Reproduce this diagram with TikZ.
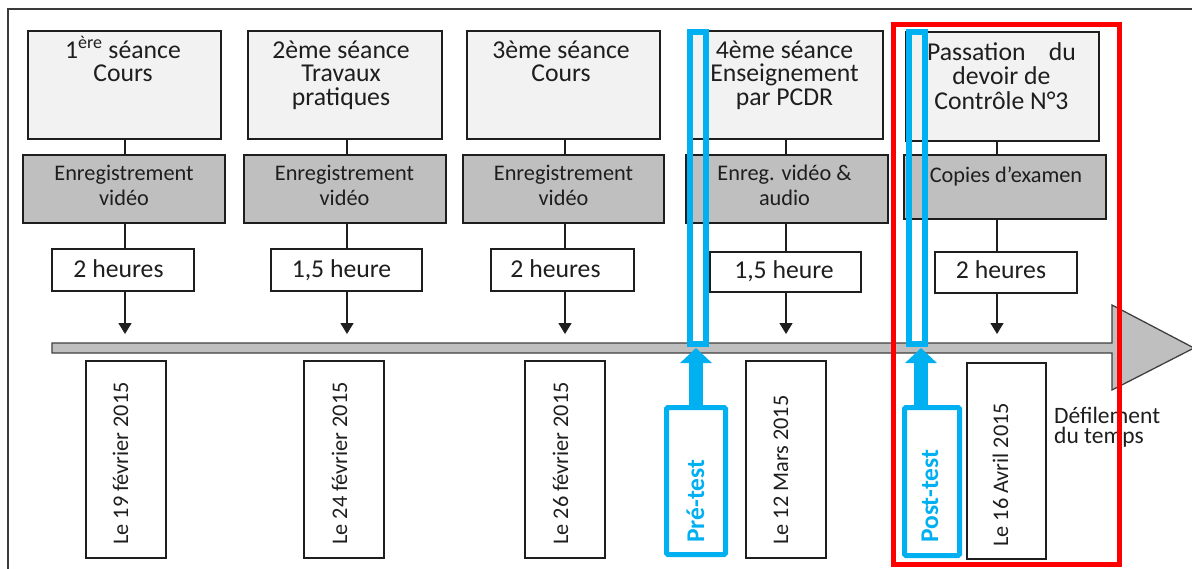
\documentclass[tikz,border=0pt]{standalone}
\usepackage{fontspec}
\setmainfont{Carlito}
\usetikzlibrary{arrows.meta}
\definecolor{boxgray}{HTML}{F2F2F2}
\definecolor{midgray}{HTML}{BFBFBF}
\definecolor{tblue}{HTML}{00B0F0}
\definecolor{tred}{HTML}{FF0000}
\definecolor{ink}{HTML}{1E1E1E}
\definecolor{framecol}{HTML}{3A3A3A}
\newcommand{\mlines}[2]{\parbox[t]{#1}{\centering #2}}
\begin{document}
\begin{tikzpicture}[x=1pt,y=-1pt,
  box/.style={draw=ink, line width=1.4pt, inner sep=0pt},
  topbox/.style={box, fill=boxgray},
  recbox/.style={box, fill=midgray},
  durbox/.style={box, fill=white},
  datebox/.style={box, fill=white, minimum width=80pt, minimum height=197pt},
  txt/.style={font=\fontsize{25.7}{23.5}\selectfont, text=ink, inner sep=0pt, anchor=base},
  rectxt/.style={font=\fontsize{22.3}{25}\selectfont, text=ink, inner sep=0pt, anchor=base},
  rtxt/.style={font=\fontsize{22.3}{23.5}\selectfont, text=ink, inner sep=0pt, rotate=90, anchor=base west},
  btxt/.style={font=\fontsize{25.5}{25}\selectfont\bfseries, text=tblue, inner sep=0pt, rotate=90, anchor=base west},
  conn/.style={draw=ink, line width=1.4pt},
  tip/.style={-{Triangle[width=13pt,length=11pt]}},
  testbox/.style={draw=tblue, line width=5pt, rounded corners=1.5pt, inner sep=0pt},
  marker/.style={draw=tblue, line width=6pt, inner sep=0pt},
  bluearrow/.style={draw=tblue, line width=14pt, -{Triangle[width=31pt,length=15pt]}}
]
\useasboundingbox (0,0) rectangle (1192,568);
\clip (0,0) rectangle (1192,568);
\fill[white] (0,0) rectangle (1192,568);
% outer frame (cropped)
\draw[framecol, line width=1.6pt] (8,9) rectangle (1260,640);
% time bar with arrow head
\draw[draw=ink!85, line width=1.3pt, fill=midgray, line join=miter]
  (52,343) -- (1112,343) -- (1112,305) -- (1194,348) -- (1112,390) -- (1112,353) -- (52,353) -- cycle;
% column coordinates
\coordinate (c1) at (125,0);
\coordinate (c2) at (347,0);
\coordinate (c3) at (565,0);
\coordinate (c4) at (786,0);
\coordinate (c5) at (997,0);
% top boxes
\node[topbox, minimum width=193pt, minimum height=108pt] (s1) at (124.5,85) {};
\node[topbox, minimum width=194pt, minimum height=108pt] (s2) at (345,85) {};
\node[topbox, minimum width=193pt, minimum height=108pt] (s3) at (563.5,85) {};
\node[topbox, minimum width=193pt, minimum height=108pt] (s4) at (786.5,85) {};
\node[topbox, minimum width=193pt, minimum height=109pt] (s5) at (1002.5,86.5) {};
\node[txt] (s1t) at (123,58) {\mlines{185pt}{1\textsuperscript{ère} séance\\Cours}};
\node[txt] (s2t) at (341,58) {\mlines{185pt}{2ème séance\\Travaux\\pratiques}};
\node[txt] (s3t) at (561,58) {\mlines{185pt}{3ème séance\\Cours}};
\node[txt] (s4t) at (784.5,58) {\mlines{185pt}{4ème séance\\Enseignement\\par PCDR}};
\node[txt, font=\fontsize{25.7}{24.5}\selectfont] (s5t) at (1001.5,60) {\mlines{185pt}{\makebox[149pt][s]{Passation\hfill du}\\devoir de\\Contrôle N°3}};
% recording boxes
\node[recbox, minimum width=202pt, minimum height=68pt] (g1) at (124,189) {};
\node[recbox, minimum width=202pt, minimum height=68pt] (g2) at (345,189) {};
\node[recbox, minimum width=201pt, minimum height=68pt] (g3) at (563.5,189) {};
\node[recbox, minimum width=202pt, minimum height=68pt] (g4) at (787,189) {};
\node[recbox, minimum width=202pt, minimum height=64pt] (g5) at (1005,187) {};
\node[rectxt] (g1t) at (124,180) {\mlines{198pt}{Enregistrement\\vidéo}};
\node[rectxt] (g2t) at (344.5,180) {\mlines{198pt}{Enregistrement\\vidéo}};
\node[rectxt] (g3t) at (563.5,180) {\mlines{198pt}{Enregistrement\\vidéo}};
\node[rectxt] (g4t) at (784.5,180) {\mlines{198pt}{Enreg. vidéo \&\\audio}};
\node[rectxt] (g5t) at (1006,182) {Copies d’examen};
% duration boxes
\node[durbox, minimum width=142pt, minimum height=42pt] (w1) at (123,270) {};
\node[durbox, minimum width=151pt, minimum height=42pt] (w2) at (346.5,270) {};
\node[durbox, minimum width=143pt, minimum height=42pt] (w3) at (562.5,270) {};
\node[durbox, minimum width=151pt, minimum height=40pt] (w4) at (785.5,272) {};
\node[durbox, minimum width=142pt, minimum height=41pt] (w5) at (1006,272.5) {};
\node[txt] (w1t) at (118.5,277) {2 heures};
\node[txt] (w2t) at (341.5,277) {1,5 heure};
\node[txt] (w3t) at (555.5,277) {2 heures};
\node[txt] (w4t) at (784,278) {1,5 heure};
\node[txt] (w5t) at (1001,278) {2 heures};
% connectors
\foreach \i in {1,...,5} {
  \draw[conn] (c\i |- s\i.south) -- (c\i |- g\i.north);
  \draw[conn] (c\i |- g\i.south) -- (c\i |- w\i.north);
}
\coordinate (a1) at (125,334);
\coordinate (a2) at (347,334);
\coordinate (a3) at (565,334);
\coordinate (a4) at (786,334);
\coordinate (a5) at (997,334);
\foreach \i in {1,...,5} {
  \draw[conn, tip] (c\i |- w\i.south) -- (a\i);
}
% date boxes
\node[datebox] (d1) at (126,459.5) {};
\node[datebox] (d2) at (344,459.5) {};
\node[datebox] (d3) at (565,459.5) {};
\node[datebox] (d4) at (786,459.5) {};
\node[datebox, minimum width=79pt, minimum height=196pt] (d5) at (1006.5,461) {};
\node[rtxt] (d1t) at (128,545) {Le 19 février 2015};
\node[rtxt] (d2t) at (347,545) {Le 24 février 2015};
\node[rtxt] (d3t) at (568,545) {Le 26 février 2015};
\node[rtxt] (d4t) at (788,545) {Le 12 Mars 2015};
\node[rtxt] (d5t) at (1008,547) {Le 16 Avril 2015};
% time label
\node[txt, anchor=base west, font=\fontsize{23.5}{20}\selectfont] (flow) at (1054,423) {\parbox[t]{108pt}{\raggedright Défilement\\du temps}};
% test boxes
\node[testbox, minimum width=59pt, minimum height=147pt] (pre) at (696,481) {};
\node[testbox, minimum width=55pt, minimum height=148pt] (post) at (932,481.5) {};
\node[btxt] (pret) at (704,543) {Pré-test};
\node[btxt] (postt) at (938,543) {Post-test};
% markers on the time line
\node[marker, minimum width=16pt, minimum height=312pt] (m1) at (698,188) {};
\node[marker, minimum width=16pt, minimum height=312pt] (m2) at (917,188) {};
% blue arrows
\coordinate (p1) at (696,348);
\coordinate (p2) at (921,348);
\draw[bluearrow] (p1 |- pre.north) -- (p1);
\draw[bluearrow] (p2 |- post.north) -- (p2);
% red focus frame
\node[draw=tred, line width=5pt, inner sep=0pt, minimum width=225.5pt, minimum height=540pt] (focus) at (1006.25,294) {};
\end{tikzpicture}
\end{document}
